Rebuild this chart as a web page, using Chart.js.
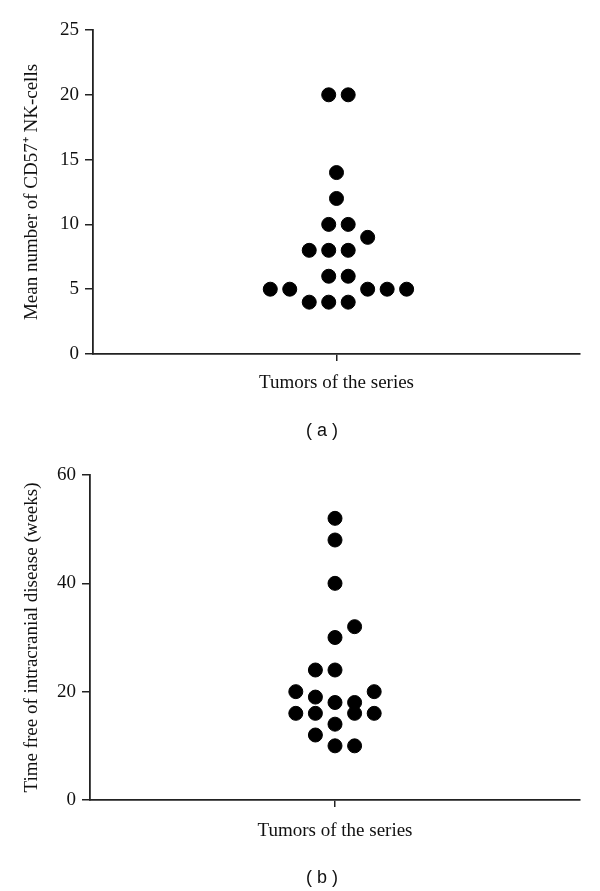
<!DOCTYPE html>
<html>
<head>
<meta charset="utf-8">
<script src="https://cdn.jsdelivr.net/npm/chart.js@4"></script>
<style>
  body { margin: 0; background: #fff; }
  .wrap { position: absolute; left: 0; width: 600px; }
  .panel { position: absolute; left: 222px; width: 200px; text-align: center; font-family: "Liberation Sans", Arial, sans-serif; font-size: 18px; color: #111; }
</style>
</head>
<body>
<div class="wrap" style="top:0;height:450px"><canvas id="chartA"></canvas></div>
<div class="wrap" style="top:450px;height:441px"><canvas id="chartB"></canvas></div>
<div class="panel" style="top:420px">( a )</div>
<div class="panel" style="top:867px">( b )</div>
<script>
// Panel (a): mean number of CD57+ NK-cells per tumor
var cd57Values = [20, 20, 14, 12, 10, 10, 9, 8, 8, 8, 6, 6, 5, 5, 5, 5, 5, 4, 4, 4];
var cd57Offsets = [-0.4, 0.6, 0, 0, -0.4, 0.6, 1.6, -1.4, -0.4, 0.6, -0.4, 0.6, -3.4, -2.4, 1.6, 2.6, 3.6, -1.4, -0.4, 0.6];
var cd57Ticks = [0, 5, 10, 15, 20, 25];

// Panel (b): time free of intracranial disease (weeks)
var timeValues = [52, 48, 40, 32, 30, 24, 24, 20, 20, 19, 18, 18, 16, 16, 16, 16, 14, 12, 10, 10];
var timeOffsets = [0, 0, 0, 1, 0, -1, 0, -2, 2, -1, 0, 1, -2, -1, 1, 2, 0, -1, 0, 1];
var timeTicks = [0, 20, 40, 60];

var xTitle = 'Tumors of the series';
var axisColor = '#222';
var serif = '"Liberation Serif", "Times New Roman", serif';

function makeChart(id, values, offsets, ticks, yTitle, box) {
    var ctx = document.getElementById(id).getContext('2d');
    var points = values.map(function (v, i) { return { x: offsets[i], y: v }; });
    return new Chart(ctx, {
        type: 'scatter',
        data: {
            datasets: [{
                data: points,
                backgroundColor: '#000',
                borderColor: '#000',
                pointRadius: 7,
                pointHoverRadius: 7
            }]
        },
        options: {
            responsive: true,
            maintainAspectRatio: false,
            animation: false,
            layout: { padding: { top: box.top, right: box.right, bottom: 0, left: 0 } },
            plugins: { legend: { display: false }, tooltip: { enabled: false } },
            scales: {
                x: {
                    type: 'linear',
                    min: -12.5,
                    max: 12.5,
                    afterBuildTicks: function (scale) { scale.ticks = [{ value: 0 }]; },
                    afterFit: function (scale) { scale.height = box.xHeight; },
                    ticks: { callback: function () { return ''; }, padding: 0 },
                    grid: { drawOnChartArea: false, tickLength: 7, color: axisColor, lineWidth: 1.5 },
                    border: { color: axisColor, width: 1.8 },
                    title: {
                        display: true,
                        text: xTitle,
                        color: '#111',
                        font: { family: serif, size: 19 },
                        padding: { top: 0, bottom: box.titleBottom }
                    }
                },
                y: {
                    min: 0,
                    max: ticks[ticks.length - 1],
                    afterBuildTicks: function (scale) { scale.ticks = ticks.map(function (t) { return { value: t }; }); },
                    afterFit: function (scale) { scale.width = box.left; },
                    ticks: { color: '#111', font: { family: serif, size: 19 }, padding: 6 },
                    grid: { drawOnChartArea: false, tickLength: 8, color: axisColor, lineWidth: 1.5 },
                    border: { color: axisColor, width: 1.8 },
                    title: {
                        display: true,
                        text: yTitle,
                        color: '#111',
                        font: { family: serif, size: 19 },
                        padding: { top: 21, bottom: 0 }
                    }
                }
            }
        }
    });
}

makeChart('chartA', cd57Values, cd57Offsets, cd57Ticks, 'Mean number of CD57\u207A NK-cells',
    { top: 30, right: 20, left: 93, xHeight: 96, titleBottom: 56 });
makeChart('chartB', timeValues, timeOffsets, timeTicks, 'Time free of intracranial disease (weeks)',
    { top: 25, right: 20, left: 90, xHeight: 91, titleBottom: 49 });
</script>
</body>
</html>
